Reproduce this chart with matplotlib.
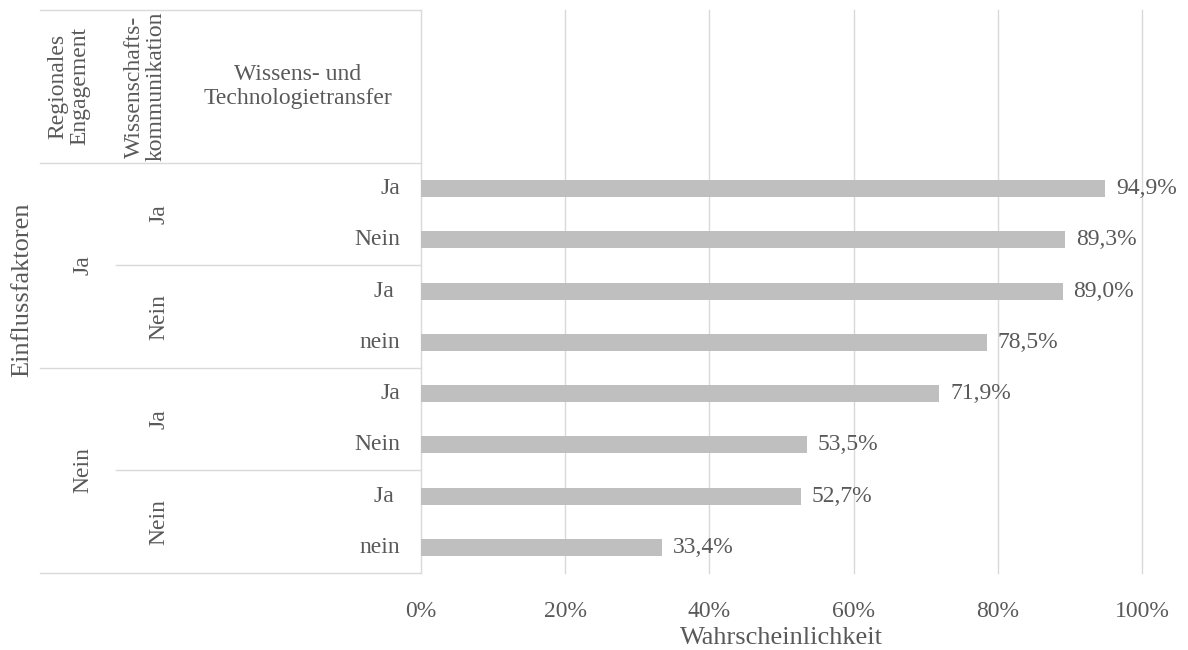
""" plot.py """

import matplotlib.pyplot as plt

plt.rcParams['font.family'] = ['Liberation Serif', 'DejaVu Serif']

# data: rows top to bottom
regional = ['Ja', 'Nein']
kommunikation = ['Ja', 'Nein', 'Ja', 'Nein']
transfer = ['Ja', 'Nein', 'Ja ', 'nein', 'Ja', 'Nein', 'Ja ', 'nein']
values = [94.9, 89.3, 89.0, 78.5, 71.9, 53.5, 52.7, 33.4]
xticks = [0, 20, 40, 60, 80, 100]

text_col = '#595959'
grid_col = '#D9D9D9'
bar_col = '#BFBFBF'
fs = 17
title_fs = 19

fig = plt.figure(figsize=(11.88, 6.5), dpi=100)
W, H = 1188, 650
x0, x1, ytop, ybot = 421, 1142, 10, 573
ax = fig.add_axes([x0 / W, 1 - ybot / H, (x1 - x0) / W, (ybot - ytop) / H])

n = len(values)
slot = (ybot - 163) / n
top_lim = -0.5 - (163 - ytop) / slot

# bars
ypos = list(range(n))
ax.barh(ypos, values, height=0.33, color=bar_col, zorder=2)
for y, v in zip(ypos, values):
    ax.text(v + 1.5, y, f'{v:.1f}%'.replace('.', ','), va='center', ha='left',
            fontsize=fs, color=text_col)

ax.set_xlim(0, 100)
ax.set_ylim(n - 0.5, top_lim)
ax.set_xticks(xticks)
ax.set_xticklabels([f'{t}%' for t in xticks])
ax.set_yticks([])
ax.tick_params(axis='x', length=0, pad=20, labelsize=fs, labelcolor=text_col)
ax.grid(axis='x', color=grid_col, linewidth=1, zorder=0)
for gl in ax.get_xgridlines():
    gl.set_clip_on(False)
for s in ax.spines.values():
    s.set_visible(False)
ax.set_xlabel('Wahrscheinlichkeit', fontsize=title_fs, color=text_col, labelpad=4)

# category table to the left of the axes
tr = ax.get_yaxis_transform()
def fx(px):
    return (px - x0) / (x1 - x0)

for yb, xl in [(top_lim, 40), (-0.5, 40), (1.5, 116), (3.5, 40), (5.5, 116), (n - 0.5, 40)]:
    ax.plot([fx(xl), 0], [yb, yb], color=grid_col, lw=1, transform=tr, clip_on=False)

for i, lab in enumerate(transfer):
    ax.text(fx(400), i, lab, ha='right', va='center', fontsize=fs, color=text_col,
            transform=tr)
for i, lab in enumerate(kommunikation):
    ax.text(fx(159), 2 * i + 0.5, lab, ha='center', va='center', rotation=90,
            fontsize=fs, color=text_col, transform=tr)
for i, lab in enumerate(regional):
    ax.text(fx(83), 4 * i + 1.5, lab, ha='center', va='center', rotation=90,
            fontsize=fs, color=text_col, transform=tr)

hy = (top_lim - 0.5) / 2
ax.text(fx(69), hy, 'Regionales\nEngagement', ha='center', va='center', rotation=90,
        fontsize=fs, color=text_col, transform=tr, linespacing=1.05)
ax.text(fx(145), hy, 'Wissenschafts-\nkommunikation', ha='center', va='center',
        rotation=90, fontsize=fs, color=text_col, transform=tr, linespacing=1.05)
ax.text(fx(298), hy, 'Wissens- und\nTechnologietransfer', ha='center', va='center',
        fontsize=fs, color=text_col, transform=tr, linespacing=1.15)
fig.text(22 / W, 1 - 290 / H, 'Einflussfaktoren', ha='center', va='center',
         rotation=90, fontsize=title_fs, color=text_col)

fig.savefig('out.png', dpi=100)
